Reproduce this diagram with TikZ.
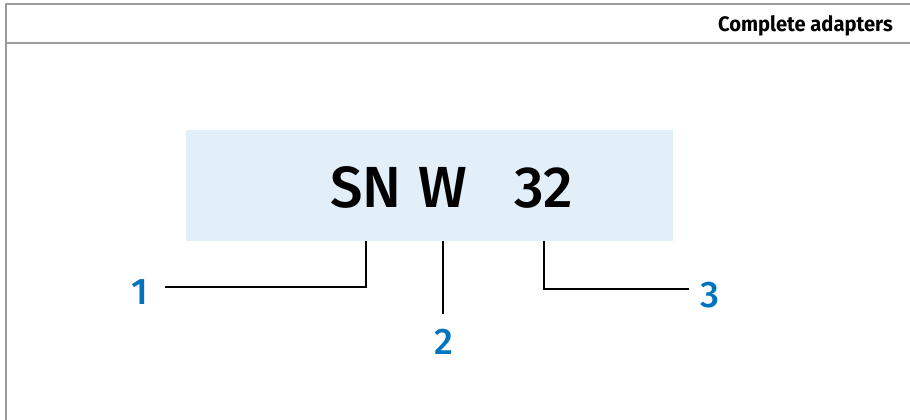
\documentclass[tikz,border=0pt]{standalone}
\usepackage{fontspec}
\setmainfont{Fira Sans}
\newfontfamily\kopffont[FakeStretch=0.96]{Fira Sans}
\newfontfamily\mittelfont{Fira Sans Medium}
\usepackage{tikz}
\definecolor{kastenblau}{RGB}{227,239,248}
\definecolor{zifferblau}{RGB}{0,115,190}
\definecolor{rahmengrau}{RGB}{155,155,155}
\tikzset{
	rahmen/.style={draw=rahmengrau, line width=1.5pt},
	zeiger/.style={draw=black, line width=2.6pt, line cap=butt, line join=miter},
	ziffer/.style={text=zifferblau, font=\mittelfont\fontsize{37}{37}\selectfont, inner sep=0pt},
	kennung/.style={font=\mittelfont\fontsize{58}{58}\selectfont, inner sep=0pt, anchor=base},
}

\begin{document}
\begin{tikzpicture}[line cap=round,line join=round,x=1pt,y=-1pt]
		\useasboundingbox (0,0) rectangle (910,420);

		% Rahmen mit Kopfzeile
		\draw[rahmen] (910,4) -- (6,4) -- (6,420);
		\draw[rahmen] (6,43) -- (910,43);
		\node[anchor=base east, inner sep=0pt, font=\kopffont\fontsize{21}{21}\selectfont\bfseries] (kopf) at (893,32) {Complete adapters};

		% Kasten mit Bezeichnung
		\node[fill=kastenblau, minimum width=487pt, minimum height=111pt, inner sep=0pt] (kasten) at (429.5,185.5) {};
		\node[kennung] (sn) at (366,207) {SN};
		\node[kennung] (w) at (443,207) {W};
		\node[kennung] (zweiunddreissig) at (544,207) {32};

		% Endpunkte der Zeiger
		\coordinate (e1) at (165,287);
		\coordinate (e2) at (444,314);
		\coordinate (e3) at (689,289);

		\draw[zeiger] (sn.south |- kasten.south) |- (e1);
		\draw[zeiger] (w.south |- kasten.south) -- (w.south |- e2);
		\draw[zeiger] (zweiunddreissig.south |- kasten.south) |- (e3);

		% Ziffern
		\node[ziffer] (eins) at (140,292.5) {1};
		\node[ziffer] (zwei) at (444,341.5) {2};
		\node[ziffer] (drei) at (709.5,295.5) {3};
	\end{tikzpicture}
\end{document}
